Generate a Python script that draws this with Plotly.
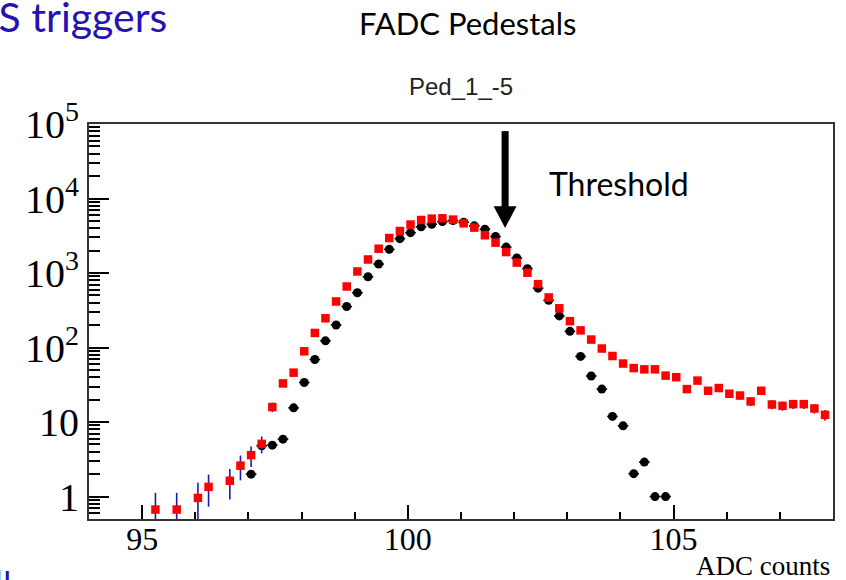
import plotly.graph_objects as go

# ---- data ----
red_x = [95.25, 95.65, 96.05, 96.25, 96.65, 96.85, 97.05, 97.25, 97.45, 97.65, 97.85,
         98.05, 98.25, 98.45, 98.65, 98.85, 99.05, 99.25, 99.45, 99.65, 99.85,
         100.05, 100.25, 100.45, 100.65, 100.85, 101.05, 101.25, 101.45, 101.65, 101.85,
         102.05, 102.25, 102.45, 102.65, 102.85, 103.05, 103.25, 103.45, 103.65, 103.85,
         104.05, 104.25, 104.45, 104.65, 104.85, 105.05, 105.25, 105.45, 105.65, 105.85,
         106.05, 106.25, 106.45, 106.65, 106.85, 107.05, 107.25, 107.45, 107.65, 107.85]
red_y = [0.67, 0.67, 0.96, 1.35, 1.63, 2.6, 3.6, 5.1, 15.9, 33, 46,
         89, 157, 247, 415, 660, 1050, 1520, 2120, 2950, 3660,
         4470, 5150, 5370, 5430, 5210, 4650, 4070, 3210, 2560, 1910,
         1380, 1010, 710, 470, 336, 226, 170, 128, 97, 77,
         61, 53, 51, 51, 42, 40, 27.7, 36, 26.3, 28.6,
         24, 22.7, 18.9, 26.3, 17.2, 16.5, 17.4, 17.4, 15.2, 12.5]
red_err = [0.45, 0.45, 0.57, 0.62, 0.72, 0.95, 1.1, 1.3, 2.3, 3.3, 3.9,
           5.4, 7.2, 9.0, 11.7, 14.8, 18.6, 22.4, 26.4, 31.2, 34.7,
           38.4, 41.2, 42.1, 42.3, 41.5, 39.2, 36.6, 32.5, 29.1, 25.1,
           21.3, 18.3, 15.3, 12.5, 10.5, 8.6, 7.5, 6.5, 5.7, 5.0,
           4.5, 4.2, 4.1, 4.1, 3.7, 3.6, 3.0, 3.4, 2.9, 3.1,
           2.8, 2.7, 2.5, 2.9, 2.4, 2.3, 2.4, 2.4, 2.2, 2.0]

blk_x = [97.05, 97.25, 97.45, 97.65, 97.85, 98.05, 98.25, 98.45, 98.65, 98.85,
         99.05, 99.25, 99.45, 99.65, 99.85, 100.05, 100.25, 100.45, 100.65, 100.85,
         101.05, 101.25, 101.45, 101.65, 101.85, 102.05, 102.25, 102.45, 102.65, 102.85,
         103.05, 103.25, 103.45, 103.65, 103.85, 104.05, 104.25, 104.45, 104.65, 104.85]
blk_y = [2.0, 4.8, 4.9, 5.9, 15.5, 34, 69, 123, 201, 355,
         543, 890, 1320, 2080, 2890, 3480, 4170, 4510, 4900, 5050,
         4800, 4300, 3870, 3090, 2230, 1590, 1145, 627, 430, 266,
         165, 76, 41.5, 27.7, 11.9, 8.9, 2.03, 2.9, 1.0, 1.0]

x_major = [95, 100, 105]
x_minor = [96, 97, 98, 99, 101, 102, 103, 104, 106, 107]
y_major = [1, 10, 100, 1000, 10000, 100000]
y_labels = ["1", "10", "10<sup>2</sup>", "10<sup>3</sup>", "10<sup>4</sup>", "10<sup>5</sup>"]
y_minor = [0.6, 0.7, 0.8, 0.9] + [m * 10 ** e for e in range(0, 5) for m in range(2, 10)]

threshold_x = 101.83

fig = go.Figure()

fig.add_trace(go.Scatter(
    x=blk_x, y=blk_y, mode="markers",
    marker=dict(symbol="circle", size=9, color="black"),
    error_x=dict(type="constant", value=0.1, color="black", thickness=1.5, width=0),
    showlegend=False, hoverinfo="x+y"))

fig.add_trace(go.Scatter(
    x=red_x, y=red_y, mode="markers",
    marker=dict(symbol="square", size=8.5, color="#ff0000"),
    error_y=dict(type="data", array=red_err, color="#1a1ab0", thickness=1.6, width=0),
    showlegend=False, hoverinfo="x+y"))

serif = "Liberation Serif, Times New Roman, serif"
sans_slide = "Lato, Open Sans, sans-serif"

fig.update_xaxes(
    range=[94, 108], tickmode="array", tickvals=x_major,
    ticks="inside", ticklen=14, tickwidth=1.5, tickcolor="black",
    minor=dict(tickmode="array", tickvals=x_minor, ticks="inside", ticklen=7,
               tickwidth=1.5, tickcolor="black", showgrid=False),
    showline=True, mirror=True, linecolor="#333", linewidth=2,
    showgrid=False, zeroline=False, ticklabelstandoff=-9,
    tickfont=dict(family=serif, size=32, color="black"))

fig.update_yaxes(
    type="log", range=[-0.301, 5], tickmode="array", tickvals=y_major, ticktext=y_labels,
    ticks="inside", ticklen=20, tickwidth=1.5, tickcolor="black",
    minor=dict(tickmode="array", tickvals=y_minor, ticks="inside", ticklen=11,
               tickwidth=1.5, tickcolor="black", showgrid=False),
    showline=True, mirror=True, linecolor="#333", linewidth=2,
    showgrid=False, zeroline=False,
    tickfont=dict(family=serif, size=40, color="black"))

# threshold arrow: shaft + head
fig.add_shape(type="rect", xref="x", yref="paper",
              x0=threshold_x - 0.066, x1=threshold_x + 0.066, y0=0.785, y1=0.982,
              fillcolor="black", line=dict(width=0))
fig.add_shape(type="path", xref="x", yref="paper",
              path=f"M {threshold_x - 0.215} 0.792 L {threshold_x + 0.215} 0.792 L {threshold_x} 0.737 Z",
              fillcolor="black", line=dict(width=0))


def px(x):
    return (x - 89) / 744


def py(y):
    return (519 - y) / 395


annotations = [
    dict(text="Threshold", x=px(619), y=py(183), xanchor="center", yanchor="middle",
         font=dict(family=sans_slide, size=32, color="black")),
    dict(text="Ped_1_-5", x=px(461), y=py(87), xanchor="center", yanchor="middle",
         font=dict(family="Liberation Sans, Arial, sans-serif", size=24, color="#222")),
    dict(text="FADC Pedestals", x=px(468), y=py(23), xanchor="center", yanchor="middle",
         font=dict(family=sans_slide, size=31, color="black")),
    dict(text="PS triggers", x=px(169), y=py(16), xanchor="right", yanchor="middle",
         font=dict(family=sans_slide, size=41, color="#2412b4")),
    dict(text="ADC counts", x=px(831), y=py(566), xanchor="right", yanchor="middle",
         borderpad=0, font=dict(family=serif, size=27, color="black")),
    dict(text="d!", x=px(14), y=py(559), xanchor="right", yanchor="top",
         font=dict(family=sans_slide, size=35, color="#2412b4")),
]
for a in annotations:
    a.update(xref="paper", yref="paper", showarrow=False)

fig.update_layout(
    width=846, height=580, autosize=False,
    margin=dict(l=89, r=13, t=124, b=61),
    paper_bgcolor="white", plot_bgcolor="white",
    annotations=annotations)

fig.write_html("out.html")
